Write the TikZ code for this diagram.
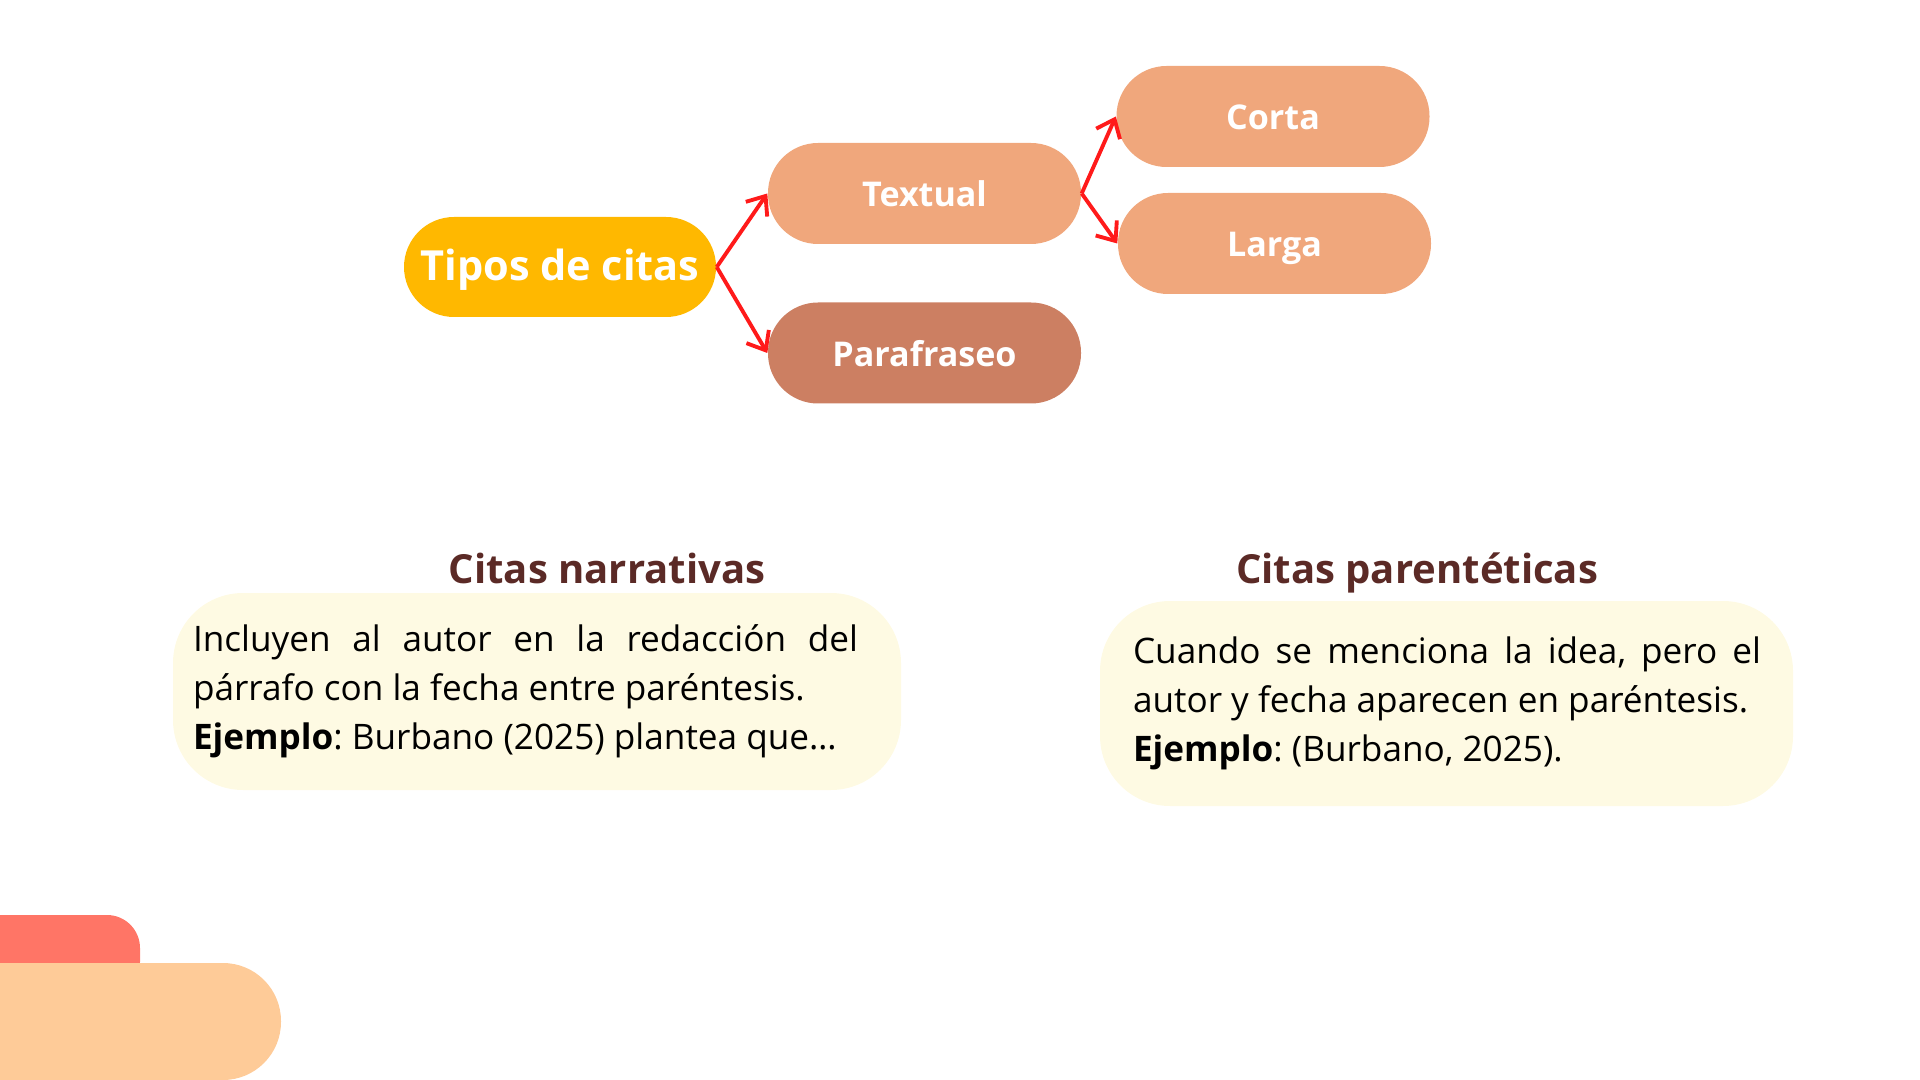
\documentclass[tikz,border=0pt]{standalone}
\usepackage{fontspec}
\setmainfont{Open Sans}
\definecolor{ctamber}{HTML}{FFB800}
\definecolor{ctsalmon}{HTML}{F0A77C}
\definecolor{ctclay}{HTML}{CC7F62}
\definecolor{ctcream}{HTML}{FEFAE3}
\definecolor{ctbrown}{HTML}{5B2A26}
\definecolor{ctred}{HTML}{FF1A1A}
\definecolor{ctcoral}{HTML}{FF7566}
\definecolor{ctpeach}{HTML}{FECB98}
\usetikzlibrary{arrows.meta}

\begin{document}
\begin{tikzpicture}[
  pill/.style={fill=ctsalmon,rounded corners=0.5cm,minimum width=3.13cm,
    minimum height=1.01cm,inner xsep=0pt,text height=0.74em,text depth=0pt,
    text=white,font=\fontsize{9.7}{11}\selectfont\bfseries},
  root/.style={pill,fill=ctamber,minimum width=3.12cm,minimum height=1.0cm,
    font=\fontsize{11.8}{14}\selectfont\bfseries},
  notebox/.style={fill=ctcream,rounded corners=0.7cm},
  note/.style={align=justify,inner sep=0pt,
    font=\fontsize{10}{13.9}\selectfont\frenchspacing},
  heading/.style={text=ctbrown,text height=0.74em,text depth=0.24em,
    font=\fontsize{11.4}{13}\selectfont\bfseries},
  arr/.style={-{Straight Barb[length=1.6mm,width=2.6mm]},line width=1.1pt,ctred}]
  \useasboundingbox (0,0) rectangle (19.2,-10.8);
  % corner shapes
  \fill[ctcoral,rounded corners=0.33cm] (-0.5,-9.15) rectangle (1.40,-9.95);
  \fill[ctpeach,rounded corners=0.58cm] (-0.6,-9.63) rectangle (2.81,-10.8);
  % map
  \node[root] (tipos) at (5.60,-2.67) {Tipos de citas};
  \node[pill] (textual) at (9.245,-1.935) {Textual};
  \node[pill,fill=ctclay] (parafraseo) at (9.245,-3.53) {Parafraseo};
  \node[pill] (corta) at (12.73,-1.165) {Corta};
  \node[pill] (larga) at (12.745,-2.435) {Larga};
  \draw[arr] (tipos.east) -- (textual.west);
  \draw[arr] (tipos.east) -- (parafraseo.west);
  \draw[arr] (textual.east) -- (corta.west);
  \draw[arr] (textual.east) -- (larga.west);
  % the two kinds
  \node[heading] (narrtitle) at (6.07,-5.75) {Citas narrativas};
  \node[notebox,minimum width=7.28cm,minimum height=1.97cm] (narrbox)
    at (5.37,-6.915) {};
  \node[note,text width=6.65cm] (narr) at (5.255,-6.915)
    {Incluyen al autor en la redacción del\linebreak
    párrafo con la fecha entre paréntesis.\\
    \textbf{Ejemplo}: Burbano (2025) plantea que…};
  \node[heading] (parentitle) at (14.17,-5.75) {Citas parentéticas};
  \node[notebox,minimum width=6.93cm,minimum height=2.05cm] (parenbox)
    at (14.465,-7.035) {};
  \node[note,text width=6.28cm] (paren) at (14.47,-7.035)
    {Cuando se menciona la idea, pero el\linebreak
    autor y fecha aparecen en paréntesis.\\
    \textbf{Ejemplo}: (Burbano, 2025).};
\end{tikzpicture}
\end{document}
